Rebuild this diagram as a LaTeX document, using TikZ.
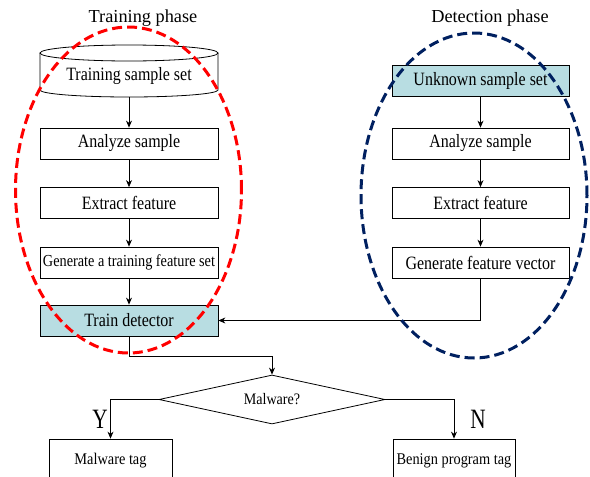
\documentclass[tikz,border=0pt]{standalone}
\usepackage{fontspec}
\setmainfont{Liberation Serif}
\newfontfamily\condA[FakeStretch=0.85]{Liberation Serif}
\newfontfamily\condB[FakeStretch=0.88]{Liberation Serif}
\newfontfamily\condC[FakeStretch=0.76]{Liberation Serif}
\usetikzlibrary{shapes.geometric,arrows.meta}
\definecolor{boxfill}{RGB}{184,221,226}
\definecolor{navyblue}{RGB}{0,32,96}
\definecolor{phasered}{RGB}{255,0,0}
\begin{document}
\begin{tikzpicture}[x=1pt,y=-1pt,
  box/.style={draw,line width=0.8pt,minimum width=178pt,minimum height=31pt,inner sep=1pt,font=\condA\fontsize{18.8}{21}\selectfont},
  hbox/.style={box,fill=boxfill},
  tagbox/.style={draw,line width=0.8pt,minimum height=44pt,inner sep=1pt,font=\condB\fontsize{16.3}{19}\selectfont},
  arr/.style={line width=0.8pt,-{Stealth[length=7pt,width=6pt]}},
  title/.style={font=\fontsize{18.3}{22}\selectfont},
  yn/.style={font=\condC\fontsize{28}{32}\selectfont},
  phase/.style={line width=3pt,dash pattern=on 10pt off 5pt}]
\useasboundingbox (0,0) rectangle (590,477);
\clip (0,0) rectangle (590,477);
% titles
\node[title] (t1) at (143,18) {Training phase};
\node[title] (t2) at (490,18) {Detection phase};
% cylinder
\node[minimum width=178pt,minimum height=44pt,inner sep=0pt,font=\condA\fontsize{18.8}{21}\selectfont] (tss) at (129,76) {Training sample set};
\draw[line width=0.8pt,fill=white] (129,53) ellipse [x radius=89pt, y radius=8pt];
\draw[line width=0.8pt] (40,53) -- (40,90) arc [start angle=180, end angle=360, x radius=89pt, y radius=7pt] -- (218,53);
\coordinate (tssb) at (129,97);
% training column
\node[box] (as) at (129,143.5) {Analyze sample};
\node[box] (ef) at (129,203) {Extract feature};
\node[box,font=\condA\fontsize{16.8}{19}\selectfont] (gts) at (129,262.5) {Generate a training feature set};
\node[hbox] (td) at (129,320.5) {Train detector};
% detection column
\node[hbox,minimum width=177pt] (us) at (480.5,80.5) {Unknown sample set};
\node[box,minimum width=177pt] (as2) at (480.5,143.5) {Analyze sample};
\node[box,minimum width=177pt] (ef2) at (480.5,203) {Extract feature};
\node[box,minimum width=177pt] (gfv) at (480.5,262.5) {Generate feature vector};
% decision
\node[draw,line width=0.8pt,diamond,aspect=4.6,inner sep=0pt,minimum width=226pt,minimum height=49pt,font=\condB\fontsize{16}{19}\selectfont] (dia) at (272,399.5) {Malware?};
\node[tagbox,minimum width=123pt] (mt) at (110.5,461) {Malware tag};
\node[tagbox,minimum width=122pt] (bt) at (454,461) {Benign program tag};
\node[yn] (ylab) at (100,419) {Y};
\node[yn] (nlab) at (478,419) {N};
% connectors
\draw[arr] (tssb) -- (as.north);
\draw[arr] (as) -- (ef);
\draw[arr] (ef) -- (gts);
\draw[arr] (gts) -- (td);
\draw[arr] (us) -- (as2);
\draw[arr] (as2) -- (ef2);
\draw[arr] (ef2) -- (gfv);
\draw[arr] (gfv.south) |- (td.east);
\draw[arr] (td.south) -- ++(0,20) -| (dia.north);
\draw[arr] (dia.west) -| (mt.north);
\draw[arr] (dia.east) -| (bt.north);
% phase ellipses
\draw[phase,phasered] (128.5,190) ellipse [x radius=113pt, y radius=163pt];
\draw[phase,navyblue] (474,195.5) ellipse [x radius=113pt, y radius=162.5pt];
\end{tikzpicture}
\end{document}
